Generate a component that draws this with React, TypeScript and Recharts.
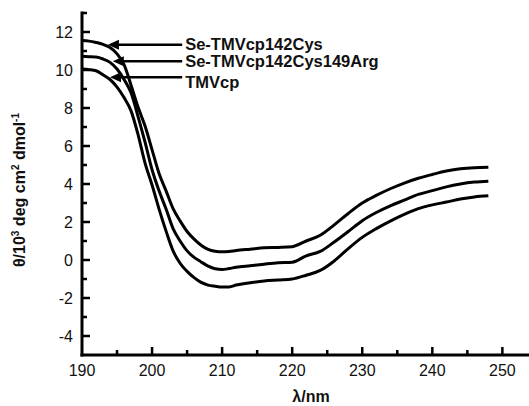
import { LineChart, Line, XAxis, YAxis, ReferenceLine } from "recharts";

const wavelengths = [
  190, 191, 192, 193, 194, 195, 196, 197, 198, 199, 200, 201, 202, 203, 204, 205, 206, 207, 208, 209,
  210, 211, 212, 214, 216, 218, 220, 222, 224, 226, 228, 230, 232, 234, 236, 238, 240, 242, 244, 246, 248,
];

// Se-TMVcp142Cys (top curve)
const seCys = [
  11.55, 11.52, 11.45, 11.35, 11.18, 10.85, 10.28, 9.2, 8.05, 7.05, 5.8, 4.55, 3.64, 2.7, 2.06, 1.5, 1.1, 0.78, 0.56, 0.46,
  0.43, 0.45, 0.5, 0.57, 0.64, 0.66, 0.7, 1.0, 1.3, 1.85, 2.45, 3.0, 3.4, 3.75, 4.05, 4.3, 4.5, 4.68, 4.8, 4.86, 4.88,
];

// Se-TMVcp142Cys149Arg (middle curve)
const seCysArg = [
  10.72, 10.7, 10.68, 10.58, 10.4, 10.05, 9.5, 8.8, 7.55, 6.2, 4.75, 3.64, 2.68, 1.65, 1.0, 0.48, 0.14, -0.1, -0.32, -0.46,
  -0.5, -0.45, -0.38, -0.3, -0.22, -0.15, -0.12, 0.22, 0.45, 0.95, 1.5, 2.07, 2.5, 2.85, 3.15, 3.45, 3.65, 3.85, 4.0, 4.1, 4.15,
];

// TMVcp (bottom curve)
const tmvcp = [
  10.05, 10.02, 9.96, 9.75, 9.5, 9.1, 8.55, 7.85, 6.6, 5.1, 3.95, 2.68, 1.52, 0.48, -0.17, -0.6, -0.93, -1.18, -1.32, -1.38,
  -1.42, -1.42, -1.32, -1.2, -1.1, -1.05, -1.0, -0.8, -0.55, -0.05, 0.6, 1.19, 1.65, 2.05, 2.4, 2.7, 2.9, 3.05, 3.21, 3.32, 3.38,
];

const xTicks = [190, 195, 200, 205, 210, 215, 220, 225, 230, 235, 240, 245, 250];
const yTicks = [-5, -4, -3, -2, -1, 0, 1, 2, 3, 4, 5, 6, 7, 8, 9, 10, 11, 12, 13];

// annotation arrows pointing at each curve
const annotations = [
  { label: "Se-TMVcp142Cys", y: 11.33, from: 193.7, to: 204.3, dy: 1 },
  { label: "Se-TMVcp142Cys149Arg", y: 10.46, from: 194.4, to: 204.3, dy: 1.5 },
  { label: "TMVcp", y: 9.62, from: 194.0, to: 204.3, dy: 6 },
];

const data = wavelengths.map((w, i) => ({
  wl: w,
  seCys: seCys[i],
  seCysArg: seCysArg[i],
  tmvcp: tmvcp[i],
}));

const FONT = "'Liberation Sans', Arial, sans-serif";
const Y_MARGIN = 9;
const X_MARGIN = 10;

const YTick = (props: any) => {
  const { x, y, payload } = props;
  const v = payload.value;
  if (v === -5) return null;
  const ax = x + Y_MARGIN;
  const major = v % 2 === 0;
  return (
    <g>
      <line x1={ax} x2={ax + (major ? 8 : 5)} y1={y} y2={y} stroke="#000" strokeWidth={2.5} />
      {major && v <= 12 && (
        <text x={x} y={y} dy="0.36em" textAnchor="end" fontSize={16} fontFamily={FONT} fill="#111">
          {v}
        </text>
      )}
    </g>
  );
};

const XTick = (props: any) => {
  const { x, y, payload } = props;
  const v = payload.value;
  const ay = y - X_MARGIN;
  const major = v % 10 === 0;
  return (
    <g>
      {v !== 190 && (
        <line x1={x} x2={x} y1={ay} y2={ay - (major ? 8 : 5)} stroke="#000" strokeWidth={2.5} />
      )}
      {major && (
        <text x={x} y={y} dy="0.71em" textAnchor="middle" fontSize={16} fontFamily={FONT} fill="#111">
          {v}
        </text>
      )}
    </g>
  );
};

const arrowShape = (label: string, dy: number) => (props: any) => {
  const { x1, y1, x2 } = props;
  const left = Math.min(x1, x2);
  const right = Math.max(x1, x2);
  return (
    <g>
      <line x1={left + 6} x2={right} y1={y1} y2={y1} stroke="#000" strokeWidth={2.5} />
      <polygon points={`${left},${y1} ${left + 11},${y1 - 5} ${left + 11},${y1 + 5}`} fill="#000" />
      <text
        x={right + 3}
        y={y1 + dy}
        dominantBaseline="middle"
        fontSize={16.5}
        fontWeight="bold"
        fontFamily={FONT}
        fill="#111"
      >
        {label}
      </text>
    </g>
  );
};

const YLabel = () => (
  <text
    transform="translate(25,190) rotate(-90)"
    textAnchor="middle"
    fontSize={16}
    fontWeight="bold"
    fontFamily={FONT}
    fill="#111"
  >
    θ/10<tspan dy={-6} fontSize={10}>3</tspan>
    <tspan dy={6}> deg cm</tspan>
    <tspan dy={-6} fontSize={10}>2</tspan>
    <tspan dy={6}> dmol</tspan>
    <tspan dy={-6} fontSize={10}>-1</tspan>
  </text>
);

const XLabel = () => (
  <text x={311} y={402} textAnchor="middle" fontSize={16} fontWeight="bold" fontFamily={FONT} fill="#111">
    λ/nm
  </text>
);

export default function App() {
  return (
    <div style={{ position: "absolute", left: 0, top: 0, background: "#fff" }}>
      <LineChart width={529} height={406} data={data} margin={{ top: 13, right: 0, bottom: 21, left: 22 }}>
        <XAxis
          dataKey="wl"
          type="number"
          domain={[190, 253.8]}
          ticks={xTicks}
          interval={0}
          allowDataOverflow
          height={30}
          tickSize={0}
          tickMargin={X_MARGIN}
          tick={<XTick />}
          axisLine={{ stroke: "#000", strokeWidth: 3, strokeLinecap: "square" }}
          label={{ content: () => <XLabel /> }}
        />
        <YAxis
          type="number"
          domain={[-5, 13]}
          ticks={yTicks}
          interval={0}
          allowDataOverflow
          width={60}
          tickSize={0}
          tickMargin={Y_MARGIN}
          tick={<YTick />}
          axisLine={{ stroke: "#000", strokeWidth: 3, strokeLinecap: "square" }}
          label={{ content: () => <YLabel /> }}
        />
        {annotations.map((a) => (
          <ReferenceLine
            key={a.label}
            segment={[
              { x: a.from, y: a.y },
              { x: a.to, y: a.y },
            ]}
            ifOverflow="visible"
            shape={arrowShape(a.label, a.dy)}
          />
        ))}
        <Line type="monotone" dataKey="seCys" stroke="#000" strokeWidth={3} dot={false} isAnimationActive={false} />
        <Line type="monotone" dataKey="seCysArg" stroke="#000" strokeWidth={3} dot={false} isAnimationActive={false} />
        <Line type="monotone" dataKey="tmvcp" stroke="#000" strokeWidth={3} dot={false} isAnimationActive={false} />
      </LineChart>
    </div>
  );
}
